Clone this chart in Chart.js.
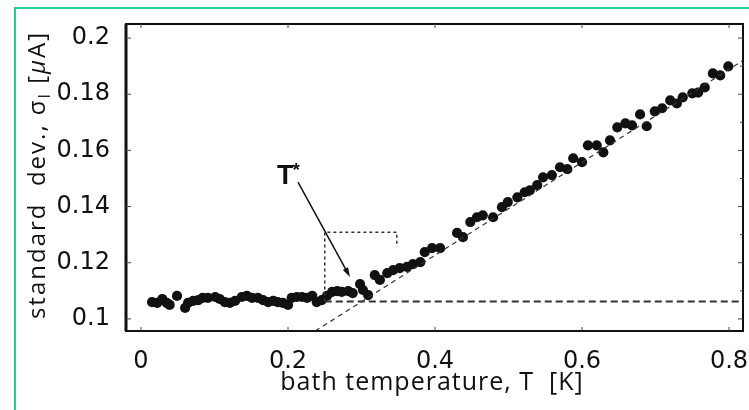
<!DOCTYPE html>
<html lang="en">
<head>
<meta charset="UTF-8">
<title>Noise vs bath temperature</title>
<script src="https://cdn.jsdelivr.net/npm/chart.js"></script>
<style>
    * { margin: 0; padding: 0; box-sizing: border-box; }
    body { background: #fff; width: 749px; height: 410px; overflow: hidden; position: relative; }
    /* green page rule on the left and top */
    .frame {
        position: absolute; left: 14px; top: 7px; right: 0; bottom: 0;
        border-left: 2px solid #22cc99; border-top: 2px solid #22cc99;
    }
    .chart-box { position: absolute; left: 0; top: 0; width: 749px; height: 410px; }
</style>
</head>
<body>
<div class="frame"></div>
<div class="chart-box"><canvas id="sigmaChart"></canvas></div>
<script>
// measured noise (standard deviation of current) vs bath temperature
const tempK = [
    0.015, 0.022, 0.029, 0.035, 0.039, 0.049, 0.060, 0.064, 0.071, 0.078,
    0.084, 0.091, 0.101, 0.107, 0.114, 0.121, 0.128, 0.137, 0.144, 0.151,
    0.159, 0.166, 0.173, 0.180, 0.186, 0.193, 0.200, 0.205, 0.212, 0.219,
    0.226, 0.233, 0.239, 0.246, 0.253, 0.260, 0.267, 0.273, 0.282, 0.288,
    0.298, 0.302, 0.309, 0.318, 0.325, 0.335, 0.343, 0.352, 0.362, 0.370,
    0.380, 0.386, 0.396, 0.407, 0.430, 0.438, 0.448, 0.457, 0.465, 0.479,
    0.491, 0.499, 0.512, 0.522, 0.529, 0.539, 0.547, 0.559, 0.570, 0.580,
    0.588, 0.600, 0.608, 0.620, 0.629, 0.638, 0.648, 0.659, 0.668, 0.679,
    0.688, 0.699, 0.709, 0.720, 0.729, 0.737, 0.750, 0.758, 0.767, 0.778,
    0.788, 0.799
];
const sigmaUA = [
    0.1060, 0.1057, 0.1071, 0.1057, 0.1050, 0.1082, 0.1039, 0.1057, 0.1064, 0.1067,
    0.1075, 0.1075, 0.1078, 0.1071, 0.1060, 0.1057, 0.1064, 0.1078, 0.1082, 0.1075,
    0.1075, 0.1067, 0.1060, 0.1064, 0.1060, 0.1057, 0.1050, 0.1075, 0.1078, 0.1078,
    0.1075, 0.1082, 0.1060, 0.1067, 0.1082, 0.1096, 0.1099, 0.1096, 0.1099, 0.1092,
    0.1124, 0.1103, 0.1085, 0.1156, 0.1139, 0.1163, 0.1174, 0.1181, 0.1185, 0.1195,
    0.1202, 0.1238, 0.1252, 0.1252, 0.1306, 0.1291, 0.1345, 0.1362, 0.1369, 0.1362,
    0.1398, 0.1416, 0.1433, 0.1451, 0.1458, 0.1476, 0.1504, 0.1512, 0.1540, 0.1533,
    0.1572, 0.1558, 0.1618, 0.1618, 0.1593, 0.1636, 0.1682, 0.1696, 0.1689, 0.1728,
    0.1686, 0.1739, 0.1750, 0.1778, 0.1767, 0.1789, 0.1803, 0.1806, 0.1824, 0.1874,
    0.1867, 0.1899
];

// low-temperature plateau and high-temperature linear fit
const plateauT = [0.25, 0.82];
const plateauSigma = [0.1062, 0.1062];
const slopeT = [0.237, 0.819];
const slopeSigma = [0.0957, 0.1920];

// dotted bracket around the crossover
const boxT = [0.250, 0.250, 0.348, 0.348];
const boxSigma = [0.1062, 0.1309, 0.1309, 0.1256];

// T* label and its arrow
const arrowT = [0.2136, 0.2844];
const arrowSigma = [0.1487, 0.1149];
const labelT = 0.185;
const labelSigma = 0.1522;

// axes
const xTicks = [0, 0.2, 0.4, 0.6, 0.8];
const xTickLabels = ['0', '0.2', '0.4', '0.6', '0.8'];
const yTicks = [0.1, 0.12, 0.14, 0.16, 0.18, 0.2];
const yTickLabels = ['0.1', '0.12', '0.14', '0.16', '0.18', '0.2'];
const yMinorTicks = [0.11, 0.13, 0.15, 0.17, 0.19];

const zip = (xs, ys) => xs.map((x, i) => ({ x: x, y: ys[i] }));
const INK = '#111';
const TITLE_FONT = '"Open Sans", sans-serif';

// box frame with inward ticks, arrow, T* and axis titles
const decorations = {
    id: 'decorations',
    afterDraw(chart) {
        const { ctx, chartArea: a, scales: { x, y } } = chart;
        ctx.save();

        // frame
        ctx.strokeStyle = INK;
        ctx.lineWidth = 2;
        ctx.strokeRect(a.left, a.top, a.right - a.left, a.bottom - a.top);
        ctx.lineWidth = 3;
        ctx.beginPath();
        ctx.moveTo(a.left, a.top);
        ctx.lineTo(a.left, a.bottom);
        ctx.stroke();

        // inward ticks
        ctx.lineWidth = 1;
        ctx.strokeStyle = '#444';
        ctx.beginPath();
        xTicks.forEach(v => {
            const px = x.getPixelForValue(v);
            ctx.moveTo(px, a.bottom); ctx.lineTo(px, a.bottom - 4);
            ctx.moveTo(px, a.top); ctx.lineTo(px, a.top + 4);
        });
        yTicks.forEach(v => {
            const py = y.getPixelForValue(v);
            ctx.moveTo(a.left, py); ctx.lineTo(a.left + 5, py);
            ctx.moveTo(a.right, py); ctx.lineTo(a.right - 5, py);
        });
        yMinorTicks.forEach(v => {
            const py = y.getPixelForValue(v);
            ctx.moveTo(a.right, py); ctx.lineTo(a.right - 3, py);
        });
        ctx.stroke();

        // arrow pointing at T*
        const x0 = x.getPixelForValue(arrowT[0]), y0 = y.getPixelForValue(arrowSigma[0]);
        const x1 = x.getPixelForValue(arrowT[1]), y1 = y.getPixelForValue(arrowSigma[1]);
        const ang = Math.atan2(y1 - y0, x1 - x0);
        ctx.strokeStyle = INK;
        ctx.fillStyle = INK;
        ctx.lineWidth = 1.5;
        ctx.beginPath();
        ctx.moveTo(x0, y0);
        ctx.lineTo(x1 - 6 * Math.cos(ang), y1 - 6 * Math.sin(ang));
        ctx.stroke();
        ctx.beginPath();
        ctx.moveTo(x1, y1);
        ctx.lineTo(x1 - 10 * Math.cos(ang - 0.3), y1 - 10 * Math.sin(ang - 0.3));
        ctx.lineTo(x1 - 10 * Math.cos(ang + 0.3), y1 - 10 * Math.sin(ang + 0.3));
        ctx.closePath();
        ctx.fill();

        // T* label
        const lx = x.getPixelForValue(labelT), ly = y.getPixelForValue(labelSigma);
        ctx.font = 'bold 27px "Liberation Sans", Arial, sans-serif';
        ctx.textAlign = 'left';
        ctx.textBaseline = 'alphabetic';
        ctx.fillText('T', lx, ly + 12);
        const tw = ctx.measureText('T').width;
        ctx.font = 'bold 19px "Liberation Sans", Arial, sans-serif';
        ctx.fillText('*', lx + tw - 1, ly + 4);

        // x axis title
        ctx.fillStyle = INK;
        ctx.letterSpacing = '1px';
        ctx.font = '25px ' + TITLE_FONT;
        ctx.textAlign = 'center';
        ctx.fillText('bath temperature, T  [K]', 432, 390);

        // y axis title, rotated, with subscript on sigma and italic mu
        const segs = [
            { t: 'standard  dev., σ', f: '24px ' + TITLE_FONT, dy: 0 },
            { t: 'I', f: '16px ' + TITLE_FONT, dy: 5 },
            { t: ' [', f: '24px ' + TITLE_FONT, dy: 0 },
            { t: 'μ', f: 'italic 24px ' + TITLE_FONT, dy: 0 },
            { t: 'A]', f: '24px ' + TITLE_FONT, dy: 0 }
        ];
        ctx.letterSpacing = '2px';
        let total = 0;
        segs.forEach(s => { ctx.font = s.f; s.w = ctx.measureText(s.t).width; total += s.w; });
        ctx.translate(45, 175);
        ctx.rotate(-Math.PI / 2);
        ctx.textAlign = 'left';
        let cx = -total / 2;
        segs.forEach(s => {
            ctx.font = s.f;
            ctx.fillText(s.t, cx, s.dy);
            cx += s.w;
        });
        ctx.restore();
    }
};

new Chart(document.getElementById('sigmaChart'), {
    type: 'scatter',
    data: {
        datasets: [
            {
                label: 'plateau',
                data: zip(plateauT, plateauSigma),
                showLine: true, pointRadius: 0,
                borderColor: '#333', borderWidth: 2, borderDash: [7, 4]
            },
            {
                label: 'linear fit',
                data: zip(slopeT, slopeSigma),
                showLine: true, pointRadius: 0,
                borderColor: '#333', borderWidth: 1.2, borderDash: [5, 4]
            },
            {
                label: 'bracket',
                data: zip(boxT, boxSigma),
                showLine: true, pointRadius: 0,
                borderColor: '#333', borderWidth: 1.5, borderDash: [3, 3]
            },
            {
                label: 'sigma',
                data: zip(tempK, sigmaUA),
                pointRadius: 5.1, pointBackgroundColor: '#111', pointBorderWidth: 0
            }
        ]
    },
    options: {
        responsive: true,
        maintainAspectRatio: false,
        animation: false,
        layout: { padding: { top: 24, right: 6, left: 0, bottom: 0 } },
        plugins: { legend: { display: false }, tooltip: { enabled: false } },
        scales: {
            x: {
                type: 'linear', min: -0.0204, max: 0.819,
                grid: { display: false, drawTicks: false },
                border: { display: false },
                ticks: {
                    padding: 16, color: INK,
                    font: { family: '"DejaVu Sans", sans-serif', size: 24 },
                    callback: v => xTickLabels[xTicks.indexOf(v)]
                },
                afterBuildTicks: s => { s.ticks = xTicks.map(v => ({ value: v })); },
                afterFit: s => { s.height = 79; s.paddingLeft = 0; s.paddingRight = 0; }
            },
            y: {
                type: 'linear', min: 0.0957, max: 0.205,
                grid: { display: false, drawTicks: false },
                border: { display: false },
                ticks: {
                    padding: 16, color: INK,
                    font: { family: '"DejaVu Sans", sans-serif', size: 24 },
                    callback: v => yTickLabels[yTicks.indexOf(v)]
                },
                afterBuildTicks: s => { s.ticks = yTicks.map(v => ({ value: v })); },
                afterFit: s => { s.width = 126; s.paddingTop = 0; s.paddingBottom = 0; }
            }
        }
    },
    plugins: [decorations]
});
</script>
</body>
</html>
